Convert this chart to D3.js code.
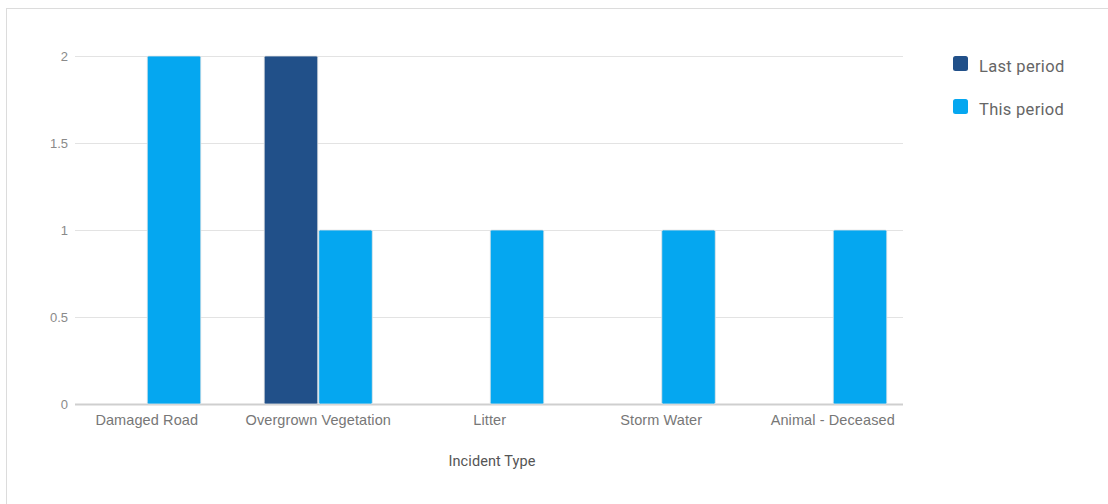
<!DOCTYPE html>
<html>
<head>
<meta charset="utf-8">
<script src="https://cdn.jsdelivr.net/npm/d3@7"></script>
<style>
  html, body { margin: 0; padding: 0; background: #fff; }
  svg { display: block; font-family: Roboto, "Noto Sans", sans-serif; }
</style>
</head>
<body>
<svg id="chart" width="1108" height="504"></svg>
<script>
// Incident counts per type, compared across two reporting periods
const categories = ["Damaged Road", "Overgrown Vegetation", "Litter", "Storm Water", "Animal - Deceased"];
const seriesNames = ["Last period", "This period"];
const lastPeriod = [0, 2, 0, 0, 0];
const thisPeriod = [2, 1, 1, 1, 1];
const yTicks = [0, 0.5, 1, 1.5, 2];
const colors = ["#215089", "#05a7f0"];

const svg = d3.select("#chart");

// card outline
svg.append("rect")
  .attr("x", 6.5).attr("y", 8.5)
  .attr("width", 1120).attr("height", 520)
  .attr("fill", "#fff").attr("stroke", "#dcdcdc");

const plotLeft = 75, plotRight = 903;
const y = d3.scaleLinear().domain([0, 2]).range([404, 56]);

const x = d3.scaleBand()
  .domain(categories)
  .range([61, 918.5])
  .paddingInner(0.364)
  .paddingOuter(0.182);

const xSub = d3.scaleBand()
  .domain(seriesNames)
  .range([0, x.bandwidth()])
  .padding(0);

// gridlines and y tick labels
const yAxis = d3.axisLeft(y)
  .tickValues(yTicks)
  .tickSize(-(plotRight - plotLeft))
  .tickPadding(7)
  .tickFormat(d3.format("~g"));

const gy = svg.append("g")
  .attr("transform", `translate(${plotLeft},0)`)
  .call(yAxis);
gy.select(".domain").remove();
gy.selectAll(".tick line")
  .attr("stroke", d => d === 0 ? "#cfcfcf" : "#e3e3e3")
  .attr("stroke-width", d => d === 0 ? 2 : 1);
gy.selectAll(".tick text")
  .attr("fill", "#8a8a8a")
  .attr("font-size", 13);

// bars
const rows = categories.map((c, i) => ({ cat: c, values: [lastPeriod[i], thisPeriod[i]] }));

const groups = svg.append("g").selectAll("g")
  .data(rows)
  .join("g")
  .attr("transform", d => `translate(${x(d.cat)},0)`);

groups.selectAll("rect")
  .data(d => d.values.map((v, j) => ({ name: seriesNames[j], v, j })).filter(e => e.v > 0))
  .join("rect")
  .attr("x", d => xSub(d.name) + 0.5)
  .attr("y", d => y(d.v))
  .attr("width", xSub.bandwidth() - 1)
  .attr("height", d => y(0) - y(d.v))
  .attr("rx", 1.5)
  .attr("fill", d => colors[d.j])
  .attr("stroke", "#e4e4e4")
  .attr("stroke-width", 0.8);

// category labels
const xAxis = d3.axisBottom(x).tickSize(0).tickPadding(10);
const gx = svg.append("g")
  .attr("transform", "translate(0,405)")
  .call(xAxis);
gx.select(".domain").remove();
gx.selectAll(".tick text")
  .attr("fill", "#777")
  .attr("font-size", 14.5)
  .attr("letter-spacing", 0.1);

// axis title
svg.append("text")
  .attr("x", 492).attr("y", 466)
  .attr("text-anchor", "middle")
  .attr("fill", "#555")
  .attr("font-size", 14.5)
  .attr("letter-spacing", 0.1)
  .text("Incident Type");

// legend
const legend = svg.append("g").selectAll("g")
  .data(seriesNames)
  .join("g")
  .attr("transform", (d, i) => `translate(953,${56 + i * 43})`);
legend.append("rect")
  .attr("width", 15).attr("height", 15).attr("rx", 2.5)
  .attr("fill", (d, i) => colors[i]);
legend.append("text")
  .attr("x", 26).attr("y", 10)
  .attr("dy", "0.35em")
  .attr("fill", "#666")
  .attr("font-size", 16.5)
  .attr("letter-spacing", 0.3)
  .text(d => d);
</script>
</body>
</html>
